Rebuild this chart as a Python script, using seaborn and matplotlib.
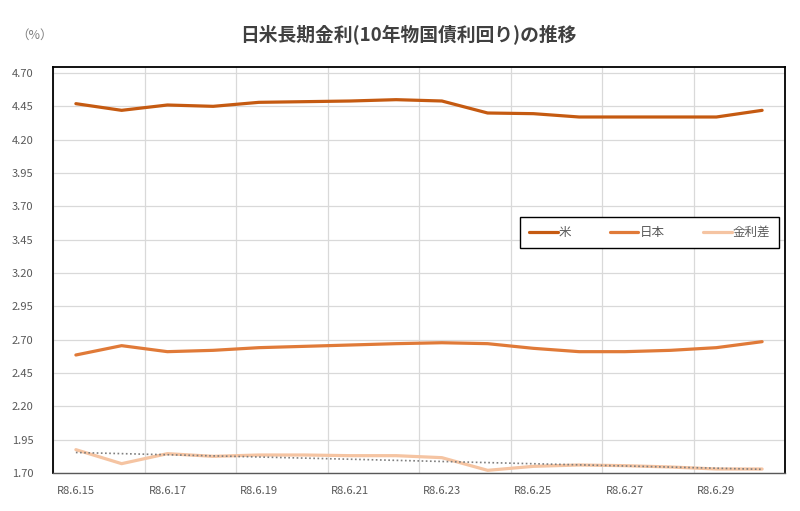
import numpy as np
import pandas as pd
import seaborn as sns
import matplotlib.pyplot as plt
from matplotlib.ticker import FixedLocator

# データ (R8.6.15 - R8.6.30)
dates = ["R8.6.15", "R8.6.16", "R8.6.17", "R8.6.18", "R8.6.19", "R8.6.20",
         "R8.6.21", "R8.6.22", "R8.6.23", "R8.6.24", "R8.6.25", "R8.6.26",
         "R8.6.27", "R8.6.28", "R8.6.29", "R8.6.30"]
us = [4.47, 4.42, 4.46, 4.45, 4.48, 4.485, 4.49, 4.50,
      4.49, 4.40, 4.395, 4.37, 4.37, 4.37, 4.37, 4.42]
japan = [2.585, 2.655, 2.61, 2.62, 2.64, 2.65, 2.66, 2.67,
         2.677, 2.67, 2.635, 2.61, 2.61, 2.62, 2.64, 2.685]
spread = [1.875, 1.77, 1.845, 1.825, 1.835, 1.835, 1.83, 1.83,
          1.815, 1.72, 1.75, 1.76, 1.755, 1.745, 1.73, 1.73]
yticks = [1.70, 1.95, 2.20, 2.45, 2.70, 2.95, 3.20, 3.45, 3.70, 3.95, 4.20, 4.45, 4.70]

sns.set_style("white")
plt.rcParams['font.family'] = ['Noto Sans CJK JP', 'DejaVu Sans']

df = pd.DataFrame({"pos": np.arange(len(dates)), "米": us, "日本": japan, "金利差": spread})

fig = plt.figure(figsize=(8, 5.11), dpi=100)
ax = fig.add_axes([53 / 800, 1 - 473 / 511, 732 / 800, 406 / 511])

colors = {"米": "#C55A11", "日本": "#E07A38", "金利差": "#F5C4A2"}
for name in ["米", "日本", "金利差"]:
    sns.lineplot(data=df, x="pos", y=name, ax=ax, color=colors[name], lw=2.3,
                 label=name, zorder=3)

# 金利差の近似直線
sns.regplot(data=df, x="pos", y="金利差", ax=ax, scatter=False, ci=None,
            line_kws=dict(color="#7F7F7F", lw=1.2, ls=(0, (1, 1.5)), zorder=4),
            truncate=True)

ax.set_xlim(-0.5, 15.5)
ax.set_ylim(1.70, 4.745)
ax.set_yticks(yticks)
ax.set_yticklabels([f"{v:.2f}" for v in yticks])
ax.set_xticks(np.arange(0, 16, 2))
ax.set_xticklabels(dates[::2])
ax.xaxis.set_minor_locator(FixedLocator(np.arange(-0.5, 16, 2)))
ax.tick_params(axis="x", which="major", length=0, pad=9, labelsize=8, colors="#595959")
ax.tick_params(axis="x", which="minor", length=4, color="#BFBFBF", direction="out")
ax.tick_params(axis="y", length=0, labelsize=8, colors="#595959", pad=14)
ax.grid(axis="y", color="#D9D9D9", lw=0.9)
ax.grid(axis="x", which="minor", color="#D9D9D9", lw=0.9)
ax.set_xlabel("")
ax.set_ylabel("")

for s in ["left", "top", "right"]:
    ax.spines[s].set_color("black")
    ax.spines[s].set_linewidth(1.3)
ax.spines["bottom"].set_color("#595959")
ax.spines["bottom"].set_linewidth(1.0)

handles, labels = ax.get_legend_handles_labels()
leg = ax.legend(handles[:3], labels[:3], ncol=3, loc="center",
                bbox_to_anchor=(0.638, 0.557, 0.354, 0.071), mode="expand",
                borderaxespad=0, fancybox=False, edgecolor="black", framealpha=1,
                fontsize=9, handlelength=2.3, handletextpad=0.1,
                borderpad=0.7, columnspacing=1.5)
leg.get_frame().set_linewidth(1.0)
for t in leg.get_texts():
    t.set_color("#595959")

fig.text(0.51, 1 - 35 / 511, "日米長期金利(10年物国債利回り)の推移", ha="center",
         va="center", fontsize=13.5, fontweight="bold", color="#404040")
fig.text(35 / 800, 1 - 35 / 511, "（%）", ha="center", va="center",
         fontsize=9, color="#7F7F7F")

fig.savefig("out.png", dpi=100)
